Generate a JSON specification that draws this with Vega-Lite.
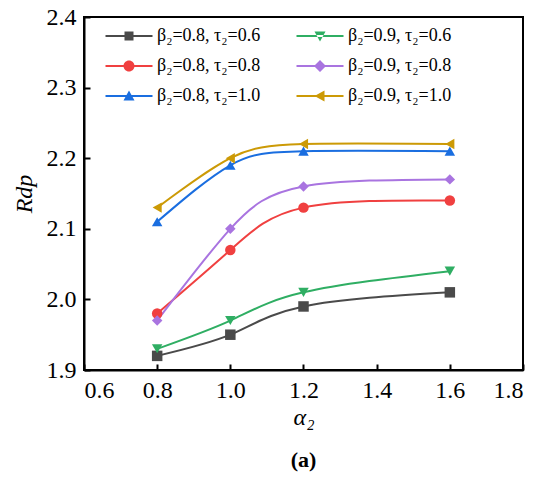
{
  "$schema": "https://vega.github.io/schema/vega-lite/v6.json",
  "autosize": "none",
  "width": 439,
  "height": 353,
  "padding": {"left": 84, "top": 17, "right": 27, "bottom": 120},
  "background": "white",
  "title": {
    "text": "(a)",
    "orient": "bottom",
    "anchor": "middle",
    "font": "Times New Roman, Liberation Serif, serif",
    "fontSize": 22,
    "fontWeight": "bold",
    "color": "black",
    "offset": 21
  },
  "config": {
    "font": "Times New Roman, Liberation Serif, serif",
    "view": {"stroke": "black", "strokeWidth": 2},
    "axis": {
      "labelFont": "Times New Roman, Liberation Serif, serif",
      "labelFontSize": 24,
      "labelColor": "black",
      "titleFont": "Times New Roman, Liberation Serif, serif",
      "titleFontSize": 24,
      "titleFontWeight": "normal",
      "titleFontStyle": "italic",
      "titleColor": "black",
      "domainColor": "black",
      "domainWidth": 2,
      "tickColor": "black",
      "tickWidth": 2,
      "tickSize": -6,
      "labelPadding": 14,
      "grid": false
    },
    "legend": {
      "labelFont": "Times New Roman, Liberation Serif, serif"
    }
  },
  "data": {
    "values": [
      {"series": "β₂=0.8, τ₂=0.6", "alpha": 0.8, "r": 1.92},
      {"series": "β₂=0.8, τ₂=0.6", "alpha": 1.0, "r": 1.95},
      {"series": "β₂=0.8, τ₂=0.6", "alpha": 1.2, "r": 1.99},
      {"series": "β₂=0.8, τ₂=0.6", "alpha": 1.6, "r": 2.01},
      {"series": "β₂=0.9, τ₂=0.6", "alpha": 0.8, "r": 1.93},
      {"series": "β₂=0.9, τ₂=0.6", "alpha": 1.0, "r": 1.97},
      {"series": "β₂=0.9, τ₂=0.6", "alpha": 1.2, "r": 2.01},
      {"series": "β₂=0.9, τ₂=0.6", "alpha": 1.6, "r": 2.04},
      {"series": "β₂=0.8, τ₂=0.8", "alpha": 0.8, "r": 1.98},
      {"series": "β₂=0.8, τ₂=0.8", "alpha": 1.0, "r": 2.07},
      {"series": "β₂=0.8, τ₂=0.8", "alpha": 1.2, "r": 2.13},
      {"series": "β₂=0.8, τ₂=0.8", "alpha": 1.6, "r": 2.14},
      {"series": "β₂=0.9, τ₂=0.8", "alpha": 0.8, "r": 1.97},
      {"series": "β₂=0.9, τ₂=0.8", "alpha": 1.0, "r": 2.10},
      {"series": "β₂=0.9, τ₂=0.8", "alpha": 1.2, "r": 2.16},
      {"series": "β₂=0.9, τ₂=0.8", "alpha": 1.6, "r": 2.17},
      {"series": "β₂=0.8, τ₂=1.0", "alpha": 0.8, "r": 2.11},
      {"series": "β₂=0.8, τ₂=1.0", "alpha": 1.0, "r": 2.19},
      {"series": "β₂=0.8, τ₂=1.0", "alpha": 1.2, "r": 2.21},
      {"series": "β₂=0.8, τ₂=1.0", "alpha": 1.6, "r": 2.21},
      {"series": "β₂=0.9, τ₂=1.0", "alpha": 0.8, "r": 2.13},
      {"series": "β₂=0.9, τ₂=1.0", "alpha": 1.0, "r": 2.20},
      {"series": "β₂=0.9, τ₂=1.0", "alpha": 1.2, "r": 2.22},
      {"series": "β₂=0.9, τ₂=1.0", "alpha": 1.6, "r": 2.22}
    ]
  },
  "encoding": {
    "x": {
      "field": "alpha",
      "type": "quantitative",
      "title": "α₂",
      "scale": {"domain": [0.6, 1.8], "nice": false, "zero": false},
      "axis": {"values": [0.6, 0.8, 1.0, 1.2, 1.4, 1.6, 1.8], "format": ".1f", "titlePadding": 3}
    },
    "y": {
      "field": "r",
      "type": "quantitative",
      "title": "Rdp",
      "scale": {"domain": [1.9, 2.4], "nice": false, "zero": false},
      "axis": {"values": [1.9, 2.0, 2.1, 2.2, 2.3, 2.4], "format": ".1f", "titlePadding": 10}
    },
    "color": {
      "field": "series",
      "type": "nominal",
      "scale": {
        "domain": ["β₂=0.8, τ₂=0.6", "β₂=0.8, τ₂=0.8", "β₂=0.8, τ₂=1.0", "β₂=0.9, τ₂=0.6", "β₂=0.9, τ₂=0.8", "β₂=0.9, τ₂=1.0"],
        "range": ["#4a4a4a", "#f04040", "#1a6ee0", "#2fae63", "#a974e0", "#cc9a06"]
      },
      "legend": null
    }
  },
  "layer": [
    {
      "mark": {"type": "line", "interpolate": "natural", "strokeWidth": 2}
    },
    {
      "mark": {"type": "point", "filled": true, "opacity": 1, "size": 110},
      "encoding": {
        "shape": {
          "field": "series",
          "type": "nominal",
          "scale": {
            "domain": ["β₂=0.8, τ₂=0.6", "β₂=0.8, τ₂=0.8", "β₂=0.8, τ₂=1.0", "β₂=0.9, τ₂=0.6", "β₂=0.9, τ₂=0.8", "β₂=0.9, τ₂=1.0"],
            "range": ["square", "circle", "triangle-up", "triangle-down", "diamond", "triangle-left"]
          },
          "legend": null
        }
      }
    },
    {
      "mark": {"type": "point", "filled": true, "opacity": 0, "size": 100},
      "encoding": {
        "color": {
          "field": "series",
          "type": "nominal",
          "legend": {
            "title": null,
            "orient": "none",
            "legendX": 36,
            "legendY": 10,
            "columns": 2,
            "columnPadding": 35,
            "rowPadding": 12,
            "symbolSize": 100,
            "symbolStrokeWidth": 0,
            "symbolOpacity": 1,
            "labelOffset": 19,
            "labelFontSize": 18,
            "labelColor": "black",
            "labelLimit": 300
          }
        },
        "shape": {
          "field": "series",
          "type": "nominal",
          "scale": {
            "domain": ["β₂=0.8, τ₂=0.6", "β₂=0.8, τ₂=0.8", "β₂=0.8, τ₂=1.0", "β₂=0.9, τ₂=0.6", "β₂=0.9, τ₂=0.8", "β₂=0.9, τ₂=1.0"],
            "range": [
              "M-0.9,-0.9H0.9V0.9H-0.9ZM-4.7,-0.2H4.7V0.2H-4.7Z",
              "M1.1,0A1.1,1.1 0 1,1 -1.1,0A1.1,1.1 0 1,1 1.1,0ZM-4.7,-0.2H4.7V0.2H-4.7Z",
              "M0,-1.1L1.1,0.9L-1.1,0.9ZM-4.7,-0.2H4.7V0.2H-4.7Z",
              "M0,1.1L1.1,-0.9L-1.1,-0.9ZM-4.7,-0.2H4.7V0.2H-4.7Z",
              "M0,-1.2L1.2,0L0,1.2L-1.2,0ZM-4.7,-0.2H4.7V0.2H-4.7Z",
              "M-1.1,0L0.9,-1.1L0.9,1.1ZM-4.7,-0.2H4.7V0.2H-4.7Z"
            ]
          },
          "legend": {
            "title": null,
            "orient": "none",
            "legendX": 36,
            "legendY": 10,
            "columns": 2,
            "columnPadding": 35,
            "rowPadding": 12,
            "symbolSize": 100,
            "symbolStrokeWidth": 0,
            "symbolOpacity": 1,
            "labelOffset": 19,
            "labelFontSize": 18,
            "labelColor": "black",
            "labelLimit": 300
          }
        }
      }
    }
  ],
  "resolve": {"scale": {"shape": "independent"}, "legend": {"color": "independent", "shape": "independent"}}
}
